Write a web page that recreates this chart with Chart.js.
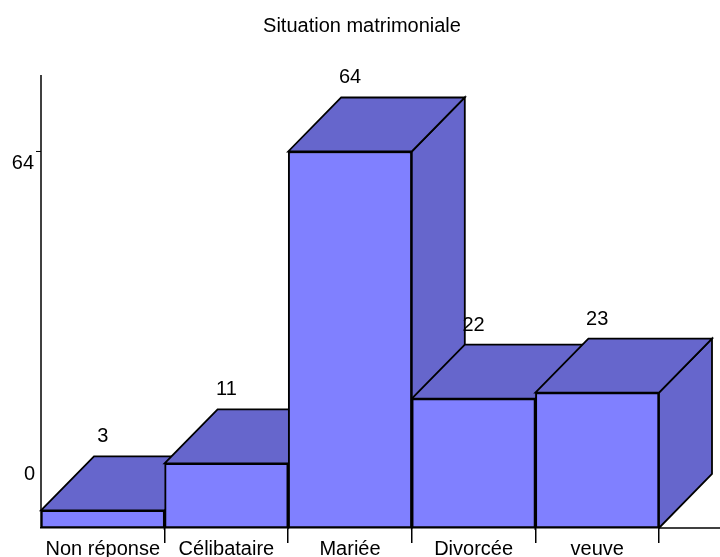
<!DOCTYPE html>
<html>
<head>
<meta charset="utf-8">
<script src="https://cdn.jsdelivr.net/npm/chart.js@4"></script>
<style>
    html, body { margin: 0; padding: 0; background: #fff; }
    #wrap { width: 720px; height: 557px; }
</style>
</head>
<body>
<div id="wrap"><canvas id="chart"></canvas></div>
<script>
// Chart data
const categories = ['Non réponse', 'Célibataire', 'Mariée', 'Divorcée', 'veuve'];
const counts = [3, 11, 64, 22, 23];
const yTickValues = [0, 64];

const FONT = '"Liberation Sans", Arial, sans-serif';
const frontColor = '#8080FF';
const darkColor = '#6666CC';
const depthX = 53;
const depthY = -54;

function poly(ctx, pts) {
    ctx.beginPath();
    ctx.moveTo(pts[0][0], pts[0][1]);
    for (let i = 1; i < pts.length; i++) ctx.lineTo(pts[i][0], pts[i][1]);
    ctx.closePath();
    ctx.fill();
    ctx.stroke();
}

// Draws the top and side faces behind the front bars, then labels and axes
const bar3d = {
    id: 'bar3d',
    beforeDatasetsDraw(chart) {
        const ctx = chart.ctx;
        const bars = chart.getDatasetMeta(0).data;
        ctx.save();
        ctx.lineWidth = 1.8;
        ctx.strokeStyle = '#000';
        ctx.fillStyle = darkColor;
        bars.forEach(bar => {
            const p = bar.getProps(['x', 'y', 'base', 'width'], true);
            const l = p.x - p.width / 2;
            const r = p.x + p.width / 2;
            // side face
            poly(ctx, [[r, p.y], [r + depthX, p.y + depthY], [r + depthX, p.base + depthY], [r, p.base]]);
            // top face
            poly(ctx, [[l, p.y], [r, p.y], [r + depthX, p.y + depthY], [l + depthX, p.y + depthY]]);
        });
        ctx.restore();
    },
    afterDatasetsDraw(chart) {
        const ctx = chart.ctx;
        const area = chart.chartArea;
        const yScale = chart.scales.y;
        const bars = chart.getDatasetMeta(0).data;
        ctx.save();
        ctx.strokeStyle = '#000';
        ctx.lineWidth = 1.5;

        // y axis line
        ctx.beginPath();
        ctx.moveTo(area.left, area.top);
        ctx.lineTo(area.left, area.bottom);
        ctx.stroke();

        // x axis continues to the right edge
        ctx.beginPath();
        ctx.moveTo(area.right, area.bottom);
        ctx.lineTo(chart.width, area.bottom);
        ctx.stroke();

        // y tick labels
        ctx.fillStyle = '#000';
        ctx.font = '20px ' + FONT;
        ctx.textAlign = 'right';
        ctx.textBaseline = 'middle';
        yTickValues.forEach(v => {
            const py = yScale.getPixelForValue(v);
            if (v === 0) {
                ctx.fillText(String(v), area.left - 6, py - 54);
            } else {
                ctx.lineWidth = 1;
                ctx.beginPath();
                ctx.moveTo(area.left - 5, py);
                ctx.lineTo(area.left, py);
                ctx.stroke();
                ctx.fillText(String(v), area.left - 7, py + 12);
            }
        });

        // value labels above each bar
        ctx.textAlign = 'center';
        bars.forEach((bar, i) => {
            ctx.fillText(String(counts[i]), bar.x, bar.y - 73.5);
        });
        ctx.restore();
    }
};

// empty side axes, only used to reserve room around the plot
const spacer = w => ({
    display: true,
    afterFit: scale => { scale.width = w; },
    grid: { display: false },
    border: { display: false },
    ticks: { display: false }
});

const ctx = document.getElementById('chart').getContext('2d');
new Chart(ctx, {
    type: 'bar',
    data: {
        labels: categories,
        datasets: [{
            data: counts,
            backgroundColor: frontColor,
            borderColor: '#000',
            borderWidth: 2,
            borderSkipped: false,
            barPercentage: 1,
            categoryPercentage: 1
        }]
    },
    options: {
        responsive: true,
        maintainAspectRatio: false,
        animation: false,
        layout: {
            padding: { left: 4, right: 0, top: 0, bottom: 0 }
        },
        plugins: {
            legend: { display: false },
            tooltip: { enabled: false },
            title: {
                display: true,
                text: 'Situation matrimoniale',
                color: '#000',
                font: { family: FONT, size: 20, weight: 'normal' },
                padding: { top: 14, bottom: 37 }
            }
        },
        scales: {
            x: {
                offset: true,
                afterFit: scale => { scale.height = 29; },
                grid: {
                    offset: true,
                    drawOnChartArea: false,
                    tickLength: 15,
                    lineWidth: 1.5,
                    color: c => c.index === 0 ? 'rgba(0,0,0,0)' : '#000'
                },
                border: { display: true, color: '#000', width: 1.5 },
                ticks: {
                    color: '#000',
                    padding: -4,
                    maxRotation: 0,
                    autoSkip: false,
                    font: { family: FONT, size: 20, lineHeight: 1 }
                }
            },
            y: Object.assign(spacer(37), { position: 'left', min: 0, max: 77 }),
            yRight: Object.assign(spacer(61), { type: 'linear', position: 'right', min: 0, max: 77 })
        }
    },
    plugins: [bar3d]
});
</script>
</body>
</html>
